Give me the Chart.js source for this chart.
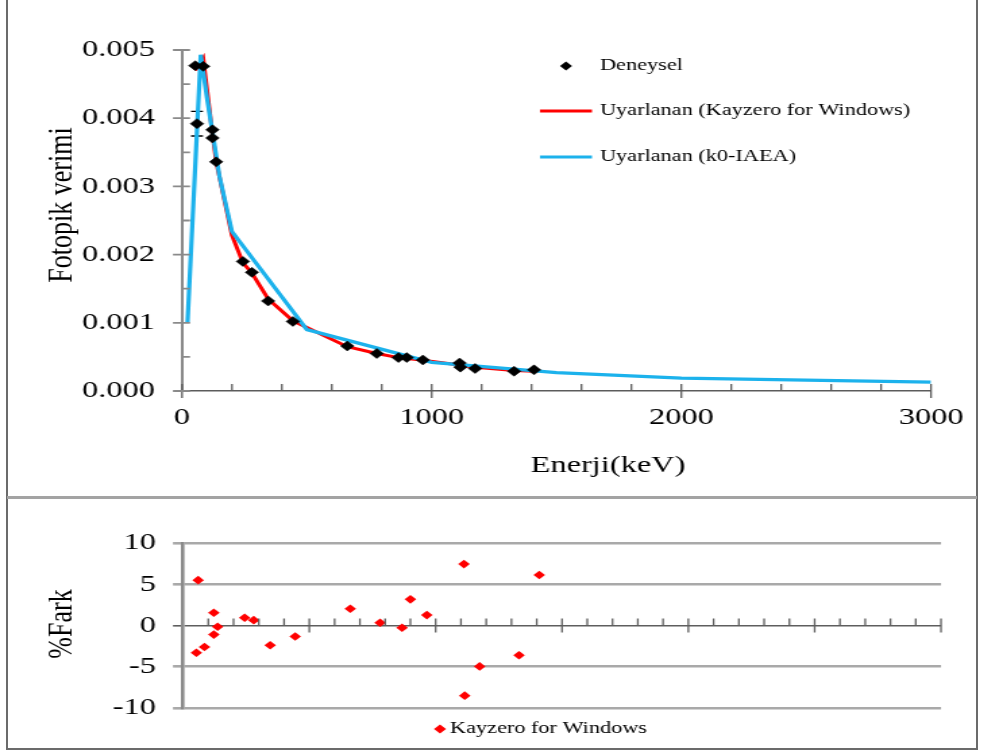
<!DOCTYPE html>
<html>
<head>
<meta charset="utf-8">
<script src="https://cdn.jsdelivr.net/npm/chart.js@4.4.0/dist/chart.umd.min.js"></script>
<style>
  body { margin: 0; background: #fff; }
  #page { position: relative; width: 981px; height: 755px; overflow: hidden; background: #fff; }
  .frame { position: absolute; left: 6px; top: -2px; width: 972px; height: 752px; border: 2px solid #6b6b6b; box-sizing: border-box; }
  .split { position: absolute; left: 7px; top: 496px; width: 970px; height: 3px; background: #a3a3a3; }
  canvas { position: absolute; left: 0; transform-origin: 0 0; }
  #effChart { top: 0; }
  #diffChart { top: 497px; }
</style>
</head>
<body>
<div id="page">
  <div class="frame"></div>
  <div class="split"></div>
  <canvas id="effChart" width="727" height="497"></canvas>
  <canvas id="diffChart" width="727" height="258"></canvas>
</div>
<script>
// peak energies (keV), shared by both panels
const energies = [53, 60, 85, 122, 122, 137, 244, 280, 345, 444, 662, 780, 867, 900, 965, 1112, 1115, 1174, 1330, 1410];
// measured full-energy peak efficiency and its uncertainty (0 = bar hidden by the marker)
const efficiency = [0.00477, 0.00392, 0.00476, 0.00383, 0.00371, 0.00336, 0.00190, 0.00174, 0.00132, 0.00102,
                    0.00066, 0.00055, 0.00049, 0.00049, 0.000455, 0.00041, 0.00035, 0.00033, 0.00029, 0.00031];
const efficiencyErr = [0, 0.00018, 0, 0, 0, 0, 0, 0, 0, 0,
                       0, 0, 0, 0, 0, 0, 0, 0, 0, 0];
// % difference against the Kayzero for Windows curve
const diffPercent = [-3.3, 5.5, -2.6, 1.55, -1.1, -0.15, 0.94, 0.65, -2.4, -1.34,
                     2.03, 0.33, -0.28, 3.17, 1.26, 7.44, -8.5, -4.96, -3.6, 6.13];

// fitted curve, Kayzero for Windows
const kayzeroEnergy = [53, 85, 122, 137, 200, 244, 280, 345, 444, 662, 780, 867, 965, 1112, 1174, 1330, 1410];
const kayzeroEff = [0.00470, 0.00488, 0.00377, 0.00336, 0.00228, 0.00188, 0.00173, 0.00135, 0.00103, 0.00065,
                    0.00055, 0.00049, 0.00045, 0.00038, 0.000347, 0.00030, 0.00029];
// fitted curve, k0-IAEA
const iaeaEnergy = [22, 75, 100, 150, 200, 500, 1000, 1500, 2000, 3000];
const iaeaEff = [0.00100, 0.00493, 0.00430, 0.00315, 0.00234, 0.00090, 0.00042, 0.00027, 0.00019, 0.00013];

// axis ticks
const energyTicks = [0, 1000, 2000, 3000];
const effTicks = [0, 0.001, 0.002, 0.003, 0.004, 0.005];
const diffTicks = [-10, -5, 0, 5, 10];

const SERIF = "'Liberation Serif', 'Times New Roman', serif";
const S = 1.35;              // figure is stretched sideways
const px = x => x / S;       // page x -> canvas x

document.querySelectorAll('canvas').forEach(c => { c.style.transform = 'scaleX(' + S + ')'; });

const toPoints = (xs, ys) => xs.map((x, i) => ({x: x, y: ys[i]}));

// minor tick marks, error bars, legend and axis titles
function makeDecor(cfg) {
  return {
    id: 'decor',
    beforeDatasetsDraw(chart) {
      const e = cfg.errors;
      if (!e) return;
      const ctx = chart.ctx, xs = chart.scales.x, ys = chart.scales.y;
      ctx.save();
      ctx.strokeStyle = e.color;
      ctx.lineWidth = e.width;
      e.x.forEach((xv, i) => {
        if (!e.err[i]) return;
        const x = xs.getPixelForValue(xv);
        const y1 = ys.getPixelForValue(e.y[i] - e.err[i]);
        const y2 = ys.getPixelForValue(e.y[i] + e.err[i]);
        ctx.beginPath();
        ctx.moveTo(x, y1); ctx.lineTo(x, y2);
        ctx.moveTo(x - e.cap, y1); ctx.lineTo(x + e.cap, y1);
        ctx.moveTo(x - e.cap, y2); ctx.lineTo(x + e.cap, y2);
        ctx.stroke();
      });
      ctx.restore();
    },
    afterDraw(chart) {
      const ctx = chart.ctx, xs = chart.scales.x, ys = chart.scales.y, area = chart.chartArea;
      ctx.save();

      if (cfg.xMarks) {
        const m = cfg.xMarks;
        const base = m.base === undefined ? area.bottom : ys.getPixelForValue(m.base);
        const n = Math.round((xs.max - xs.min) / m.minor);
        ctx.strokeStyle = m.color;
        ctx.lineWidth = m.width;
        ctx.beginPath();
        for (let i = m.from || 0; i <= n; i++) {
          const x = xs.getPixelForValue(xs.min + i * m.minor);
          const major = (i * m.minor) % m.major === 0;
          ctx.moveTo(x, base - m.up);
          ctx.lineTo(x, base + (major ? m.down : 0));
        }
        ctx.stroke();
      }

      if (cfg.yMarks) {
        const m = cfg.yMarks;
        const n = Math.round((ys.max - ys.min) / m.minor);
        ctx.strokeStyle = m.color;
        ctx.lineWidth = m.width;
        ctx.beginPath();
        for (let i = 0; i <= n; i++) {
          const y = ys.getPixelForValue(ys.min + i * m.minor);
          ctx.moveTo(i % m.every === 0 ? area.left - m.out : area.left, y);
          ctx.lineTo(area.left + m.inside, y);
        }
        ctx.stroke();
      }

      if (cfg.legend) {
        const L = cfg.legend;
        ctx.font = L.size + 'px ' + SERIF;
        ctx.textBaseline = 'middle';
        ctx.textAlign = 'left';
        L.items.forEach(it => {
          const ds = chart.data.datasets[it.index];
          if (it.kind === 'line') {
            ctx.strokeStyle = ds.borderColor;
            ctx.lineWidth = it.width;
            ctx.beginPath();
            ctx.moveTo(it.x0, it.y);
            ctx.lineTo(it.x1, it.y);
            ctx.stroke();
          } else {
            ctx.fillStyle = ds.backgroundColor;
            Chart.helpers.drawPoint(ctx, {pointStyle: 'rectRot', radius: it.radius, borderWidth: 0, rotation: 0}, it.x0, it.y);
          }
          ctx.fillStyle = '#000';
          ctx.fillText(ds.label, L.textX, it.y);
        });
      }

      (cfg.titles || []).forEach(t => {
        ctx.save();
        ctx.translate(t.x, t.y);
        if (t.rotate) ctx.rotate(-Math.PI / 2);
        ctx.font = t.size + 'px ' + SERIF;
        ctx.fillStyle = '#000';
        ctx.textAlign = 'center';
        ctx.textBaseline = 'middle';
        ctx.fillText(t.text, 0, 0);
        ctx.restore();
      });

      ctx.restore();
    }
  };
}

const tickFont = {family: SERIF, size: 24};

new Chart(document.getElementById('effChart'), {
  type: 'scatter',
  data: {
    datasets: [
      {label: 'Deneysel', data: toPoints(energies, efficiency), pointStyle: 'rectRot', pointRadius: 5,
       backgroundColor: '#000', borderColor: '#000', borderWidth: 0.5, order: 0},
      {label: 'Uyarlanan (Kayzero for Windows)', data: toPoints(kayzeroEnergy, kayzeroEff), showLine: true,
       pointRadius: 0, borderColor: '#ff0000', borderWidth: 3, tension: 0, order: 2},
      {label: 'Uyarlanan (k0-IAEA)', data: toPoints(iaeaEnergy, iaeaEff), showLine: true,
       pointRadius: 0, borderColor: '#1cb2ec', borderWidth: 3.2, tension: 0, order: 1}
    ]
  },
  options: {
    responsive: false,
    animation: false,
    events: [],
    layout: {padding: {left: 0, right: 727 - px(931), top: 50, bottom: 0}},
    plugins: {legend: {display: false}, tooltip: {enabled: false}},
    scales: {
      x: {
        type: 'linear', min: 0, max: 3000,
        afterFit: s => { s.height = 497 - 391; },
        afterBuildTicks: s => { s.ticks = energyTicks.map(v => ({value: v})); },
        ticks: {color: '#000', font: tickFont, padding: 12, maxRotation: 0, callback: v => String(v)},
        grid: {display: false, drawTicks: false},
        border: {color: '#5c5c5c', width: 1.5}
      },
      y: {
        min: 0, max: 0.005,
        afterFit: s => { s.width = px(182); },
        afterBuildTicks: s => { s.ticks = effTicks.map(v => ({value: v})); },
        ticks: {color: '#000', font: tickFont, padding: px(27), callback: v => v.toFixed(3)},
        grid: {display: false, drawTicks: false},
        border: {color: '#8a8a8a', width: 2}
      }
    }
  },
  plugins: [makeDecor({
    xMarks: {minor: 200, major: 1000, up: 7, down: 7, color: '#5c5c5c', width: 1.3},
    yMarks: {minor: 0.0005, every: 2, out: px(9), inside: px(8), color: '#8a8a8a', width: 1.8},
    errors: {x: energies, y: efficiency, err: efficiencyErr, cap: px(6), color: '#000', width: 1.4},
    legend: {
      size: 16.5, textX: px(600),
      items: [
        {index: 0, kind: 'marker', x0: px(566), y: 66, radius: 4.5},
        {index: 1, kind: 'line', x0: px(540), x1: px(592), y: 111, width: 3},
        {index: 2, kind: 'line', x0: px(540), x1: px(592), y: 157, width: 3}
      ]
    },
    titles: [
      {text: 'Fotopik verimi', x: px(62), y: 205, size: 26, rotate: true},
      {text: 'Enerji(keV)', x: px(608), y: 466, size: 24}
    ]
  })]
});

new Chart(document.getElementById('diffChart'), {
  type: 'scatter',
  data: {
    datasets: [
      {label: 'Kayzero for Windows', data: toPoints(energies, diffPercent), pointStyle: 'rectRot', pointRadius: 4.3,
       backgroundColor: '#ff0000', borderColor: '#ff0000', borderWidth: 0}
    ]
  },
  options: {
    responsive: false,
    animation: false,
    events: [],
    layout: {padding: {left: 0, right: 727 - px(941), top: 46, bottom: 0}},
    plugins: {legend: {display: false}, tooltip: {enabled: false}},
    scales: {
      x: {
        type: 'linear', min: 0, max: 3000,
        afterFit: s => { s.height = 258 - 211; },
        ticks: {display: false},
        grid: {display: false, drawTicks: false},
        border: {display: false}
      },
      y: {
        min: -10, max: 10,
        afterFit: s => { s.width = px(183); },
        afterBuildTicks: s => { s.ticks = diffTicks.map(v => ({value: v})); },
        ticks: {color: '#000', font: tickFont, padding: px(17)},
        grid: {
          color: c => (c.tick && c.tick.value === 0 ? '#5e5e5e' : '#a9a9a9'),
          lineWidth: c => (c.tick && c.tick.value === 0 ? 1.6 : 2.6),
          tickLength: px(10)
        },
        border: {color: '#8a8a8a', width: 2.6}
      }
    }
  },
  plugins: [makeDecor({
    xMarks: {base: 0, from: 1, minor: 100, major: 500, up: 7, down: 7, color: '#5e5e5e', width: 1.3},
    legend: {
      size: 16.5, textX: px(450),
      items: [{index: 0, kind: 'marker', x0: px(440), y: 232, radius: 4.5}]
    },
    titles: [{text: '%Fark', x: px(62), y: 127, size: 26, rotate: true}]
  })]
});
</script>
</body>
</html>
